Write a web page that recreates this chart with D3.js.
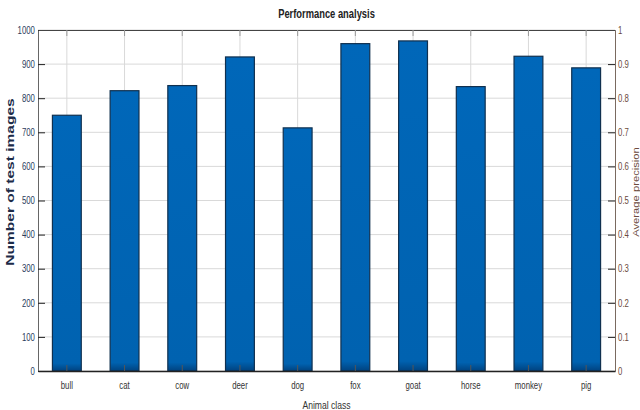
<!DOCTYPE html>
<html>
<head>
<meta charset="utf-8">
<script src="https://cdn.jsdelivr.net/npm/d3@7"></script>
<style>
  body { margin: 0; background: #fff; }
  text { font-family: "Liberation Sans", Arial, sans-serif; }
</style>
</head>
<body>
<div id="chart"></div>
<script>
// data
var animals = ["bull", "cat", "cow", "deer", "dog", "fox", "goat", "horse", "monkey", "pig"]
var testImages = [750, 822, 837, 921, 713, 960, 968, 834, 923, 889]
var leftTicks = [0, 100, 200, 300, 400, 500, 600, 700, 800, 900, 1000]
var rightTicks = [0, 0.1, 0.2, 0.3, 0.4, 0.5, 0.6, 0.7, 0.8, 0.9, 1]

var svgWidth = 640, svgHeight = 410
var margin = {top: 30, right: 25, bottom: 39, left: 38}
var chartWidth = svgWidth - margin.left - margin.right
var chartHeight = svgHeight - margin.top - margin.bottom
// the original picture is squeezed sideways, so text is narrowed
var squeeze = 'scale(0.78, 1)'

var svg = d3.select('#chart')
            .append('svg')
            .attr('width', svgWidth)
            .attr('height', svgHeight)

var defs = svg.append('defs')
var grad = defs.append('linearGradient')
               .attr('id', 'barFill')
               .attr('x1', 0).attr('x2', 0).attr('y1', 0).attr('y2', 1)
grad.append('stop').attr('offset', '0%').attr('stop-color', '#0067b9')
grad.append('stop').attr('offset', '97%').attr('stop-color', '#0062b0')
grad.append('stop').attr('offset', '100%').attr('stop-color', '#00427f')

var chartGroup = svg.append('g')
                    .attr('transform', `translate(${margin.left}, ${margin.top})`)

var xScale = d3.scaleBand()
               .domain(animals)
               .range([0, chartWidth])
               .paddingInner(0.5)
               .paddingOuter(0.25)

var yScale = d3.scaleLinear()
               .domain([0, 1000])
               .range([chartHeight, 0])

var y2Scale = d3.scaleLinear()
                .domain([0, 1])
                .range([chartHeight, 0])

// grid lines
chartGroup.append('g')
    .selectAll('line')
    .data(leftTicks)
    .enter()
    .append('line')
    .attr('x1', 0).attr('x2', chartWidth)
    .attr('y1', d => yScale(d)).attr('y2', d => yScale(d))
    .attr('stroke', '#d9d9d9')
    .attr('stroke-width', 1)

chartGroup.append('g')
    .selectAll('line')
    .data(animals)
    .enter()
    .append('line')
    .attr('x1', d => xScale(d) + xScale.bandwidth() / 2)
    .attr('x2', d => xScale(d) + xScale.bandwidth() / 2)
    .attr('y1', 0).attr('y2', chartHeight)
    .attr('stroke', '#d9d9d9')
    .attr('stroke-width', 1)

// bars
var barData = animals.map((a, i) => ({x: a, y: testImages[i]}))
chartGroup.selectAll('.bar')
    .data(barData)
    .enter()
    .append('rect')
    .attr('class', 'bar')
    .attr('x', d => xScale(d.x))
    .attr('y', d => yScale(d.y))
    .attr('width', xScale.bandwidth())
    .attr('height', d => chartHeight - yScale(d.y))
    .attr('fill', 'url(#barFill)')
    .attr('stroke', '#10304f')
    .attr('stroke-width', 1.2)

// axes (ticks pointing inside, like the original)
var leftAxis = d3.axisLeft(yScale).tickValues(leftTicks).tickSizeInner(-7).tickSizeOuter(0).tickPadding(4)
    .tickFormat(d3.format('d'))
var rightAxis = d3.axisRight(y2Scale).tickValues(rightTicks).tickSizeInner(-7).tickSizeOuter(0).tickPadding(4)
    .tickFormat(d3.format('~g'))
var bottomAxis = d3.axisBottom(xScale).tickSizeInner(-6).tickSizeOuter(0).tickPadding(11)
var topAxis = d3.axisTop(xScale).tickSizeInner(-6).tickSizeOuter(0).tickFormat('')

var gl = chartGroup.append('g').call(leftAxis)
gl.selectAll('text').attr('fill', '#2b3c5c').attr('font-size', 10).attr('transform', squeeze)
gl.select('.domain').attr('stroke', '#666')
gl.selectAll('.tick line').attr('stroke', '#222')

var gr = chartGroup.append('g').attr('transform', `translate(${chartWidth}, 0)`).call(rightAxis)
gr.selectAll('text').attr('fill', '#6b4a3c').attr('font-size', 10).attr('transform', squeeze)
gr.select('.domain').attr('stroke', '#7a6a60')
gr.selectAll('.tick line').attr('stroke', '#222')

var gb = chartGroup.append('g').attr('transform', `translate(0, ${chartHeight})`).call(bottomAxis)
gb.selectAll('text').attr('fill', '#333').attr('font-size', 10).attr('transform', squeeze)
gb.select('.domain').attr('stroke', '#222').attr('stroke-width', 1.3)
gb.selectAll('.tick line').attr('stroke', '#555')

var gt = chartGroup.append('g').call(topAxis)
gt.select('.domain').attr('stroke', '#444')
gt.selectAll('.tick line').attr('stroke', '#999')

// titles
svg.append('text')
    .attr('transform', `translate(${margin.left + chartWidth / 2}, 18) ${squeeze}`)
    .attr('text-anchor', 'middle')
    .attr('font-size', 12)
    .attr('font-weight', 'bold')
    .attr('fill', '#222')
    .text('Performance analysis')

svg.append('text')
    .attr('transform', `translate(${margin.left + chartWidth / 2}, 409) ${squeeze}`)
    .attr('text-anchor', 'middle')
    .attr('font-size', 11)
    .attr('fill', '#333')
    .text('Animal class')

// the vertical labels are stretched along their length in the original
svg.append('text')
    .attr('transform', `translate(14, 182) rotate(-90) scale(1.35, 1)`)
    .attr('text-anchor', 'middle')
    .attr('font-family', 'DejaVu Sans')
    .attr('font-size', 11.5)
    .attr('font-weight', 'bold')
    .attr('fill', '#1c2b48')
    .text('Number of test images')

svg.append('text')
    .attr('transform', `translate(639, 192) rotate(-90) scale(1.25, 1)`)
    .attr('text-anchor', 'middle')
    .attr('font-family', 'DejaVu Sans')
    .attr('font-size', 9)
    .attr('fill', '#6b4a3c')
    .text('Average precision')
</script>
</body>
</html>
